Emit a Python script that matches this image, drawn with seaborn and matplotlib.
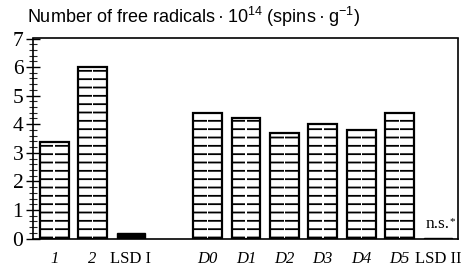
import matplotlib
matplotlib.use("Agg")
import matplotlib.pyplot as plt
import seaborn as sns
import pandas as pd
from matplotlib.ticker import MultipleLocator

sns.set_theme(style="white")
plt.rcParams['font.family'] = ['Liberation Serif', 'DejaVu Serif']
plt.rcParams['mathtext.fontset'] = 'custom'
plt.rcParams['mathtext.rm'] = 'Liberation Sans'
plt.rcParams['mathtext.it'] = 'Liberation Sans:italic'
plt.rcParams['hatch.linewidth'] = 1.3

# data
categories = ["1", "2", "LSD I", "", "D0", "D1", "D2", "D3", "D4", "D5", "LSD II"]
hatched_cats = ["1", "2", "D0", "D1", "D2", "D3", "D4", "D5"]
hatched_vals = [3.38, 6.0, 4.39, 4.2, 3.68, 3.99, 3.79, 4.4]
lsd_cats = ["LSD I", "LSD II"]
lsd_vals = [0.2, 0.03]
italic_labels = ["1", "2", "D0", "D1", "D2", "D3", "D4", "D5"]
ns_label = "n.s."
title = "Number of free radicals\u2009\u00b7\u200910$^{14}$ (spins\u2009\u00b7\u2009g$^{\\mathrm{-1}}$)"

df_h = pd.DataFrame({"cat": hatched_cats, "val": hatched_vals})
df_l = pd.DataFrame({"cat": lsd_cats, "val": lsd_vals})

fig = plt.figure(figsize=(4.67, 2.67), dpi=100)
ax = fig.add_axes([33/467, 1-238.5/267, 425/467, 200/267])

# hatched bars (fill + hatch)
sns.barplot(data=df_h, x="cat", y="val", order=categories, color="white",
            width=0.75, edgecolor="black", linewidth=0, ax=ax, errorbar=None,
            saturation=1)
for p in ax.patches:
    p.set_hatch("--")
    p.set_facecolor("white")
# white centre gap
sns.barplot(data=df_h, x="cat", y="val", order=categories, color="white",
            width=0.035, linewidth=0, ax=ax, errorbar=None, saturation=1)
# outlines
sns.barplot(data=df_h, x="cat", y="val", order=categories, fill=False,
            width=0.75, edgecolor="black", linewidth=1.6, ax=ax, errorbar=None)
# LSD bars
sns.barplot(data=df_l, x="cat", y="val", order=categories, color="black",
            width=0.75, edgecolor="black", linewidth=1.0, ax=ax, errorbar=None,
            saturation=1)

ax.set_xlim(-0.55, len(categories) - 0.48)
ax.set_ylim(0, 7)
ax.set_xlabel("")
ax.set_ylabel("")

ax.yaxis.set_major_locator(MultipleLocator(1))
ax.yaxis.set_minor_locator(MultipleLocator(0.2))
ax.tick_params(axis="y", which="major", direction="inout", length=10, width=1.0,
               left=True, labelsize=15.5, pad=2, colors="black")
ax.tick_params(axis="y", which="minor", direction="inout", length=6, width=0.8,
               left=True)
ax.tick_params(axis="x", length=0, pad=9, labelsize=12, colors="black")

ax.set_xticks(range(len(categories)))
ax.set_xticklabels(categories)
for lab in ax.get_xticklabels():
    if lab.get_text() in italic_labels:
        lab.set_fontstyle("italic")

for s in ax.spines.values():
    s.set_color("black")
    s.set_linewidth(1.2)
    s.set_visible(True)

ix = categories.index("LSD II")
ax.text(ix, 0.22, ns_label, ha="center", va="bottom", fontsize=12.5, color="black")
ax.text(ix + 0.38, 0.42, "*", ha="center", va="bottom", fontsize=8, color="black")

fig.text(27/467, 1-17/267, title, ha="left", va="center", fontsize=13,
         family=["Liberation Sans", "DejaVu Sans"], color="black")

fig.savefig("out.png", dpi=100)
